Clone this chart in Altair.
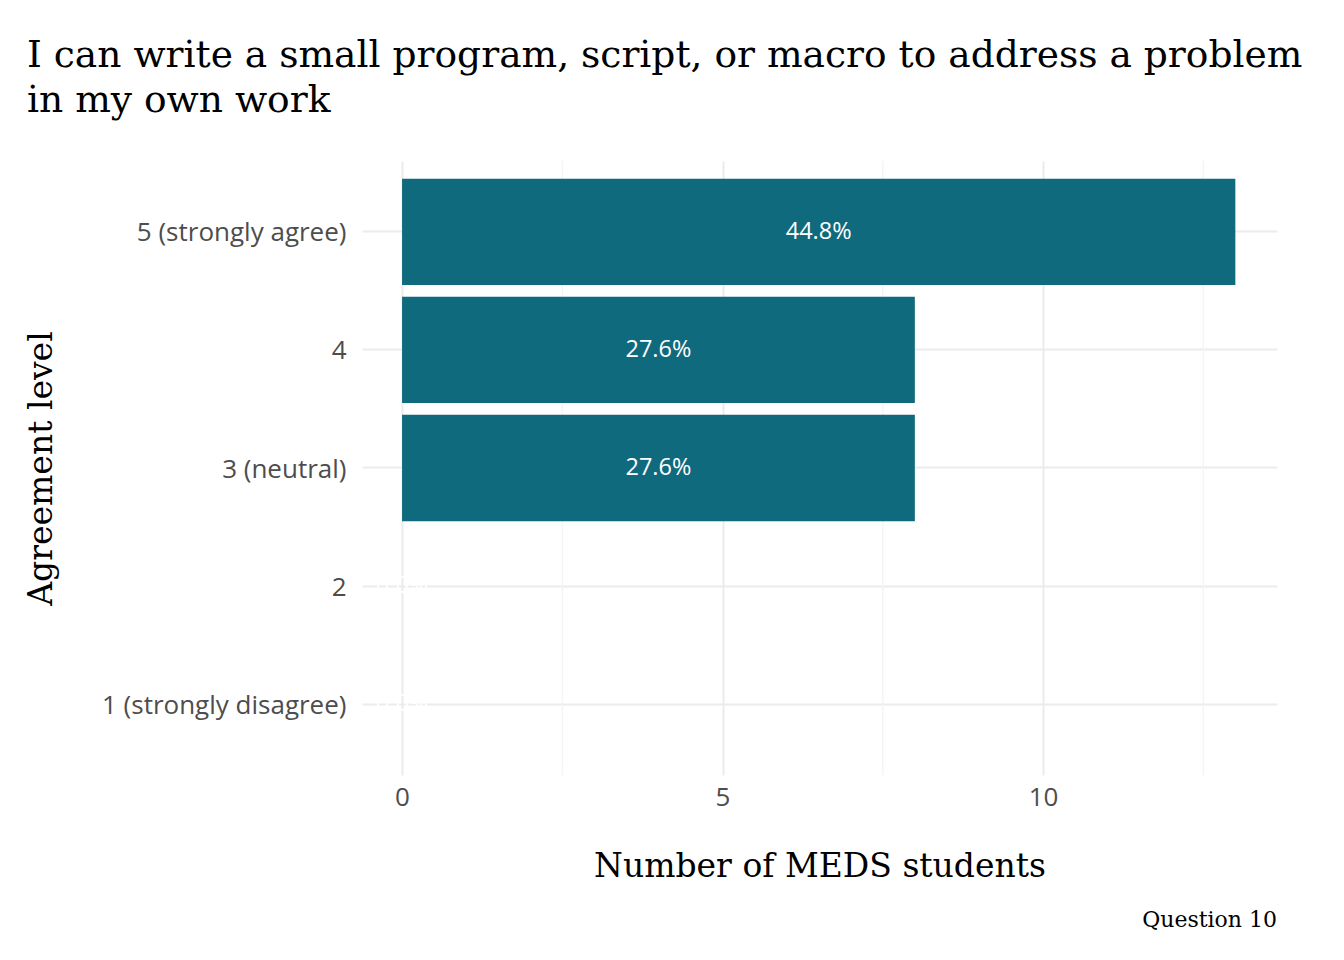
import altair as alt
import pandas as pd

levels = ["5 (strongly agree)", "4", "3 (neutral)", "2", "1 (strongly disagree)"]
counts = [13, 8, 8, 0, 0]
total = sum(counts)
pct_labels = [f"{c / total * 100:.1f}%" for c in counts]
minor_ticks = [2.5, 7.5, 12.5]
major_ticks = [0, 5, 10]
title_lines = ["I can write a small program, script, or macro to address a problem", "in my own work"]
caption_text = "Question 10"

df = pd.DataFrame({"level": levels, "count": counts, "pct": pct_labels})
df["mid"] = df["count"] / 2

W, H = 915, 614
serif = "DejaVu Serif"
sans = "Open Sans"

xscale = alt.Scale(domain=[-0.625, 13.65], nice=False, zero=False)
yscale = alt.Scale(domain=levels, paddingInner=0.1, paddingOuter=0.15)

xaxis = alt.Axis(
    values=major_ticks,
    grid=True,
    gridColor="#ebebeb",
    gridWidth=2,
    domain=False,
    ticks=False,
    labelFont=sans,
    labelFontSize=26,
    labelColor="#4d4d4d",
    labelBaseline="middle",
    labelPadding=22,
    titleFont=serif,
    titleFontSize=33,
    titleFontWeight="normal",
    titleColor="#000000",
    titleBaseline="middle",
    titleY=91,
)
yaxis = alt.Axis(
    grid=True,
    gridColor="#ebebeb",
    gridWidth=2,
    bandPosition=0.5,
    domain=False,
    ticks=False,
    labelFont=sans,
    labelFontSize=26,
    labelColor="#4d4d4d",
    labelPadding=16,
    labelLimit=0,
    labelOffset=1.5,
    titleFont=serif,
    titleFontSize=33,
    titleFontWeight="normal",
    titleColor="#000000",
    titleAngle=-90,
    titleAlign="center",
    titleBaseline="middle",
    titleX=-321,
    titleY=H / 2,
)

minor = alt.Chart(pd.DataFrame({"count": minor_ticks})).mark_rule(
    color="#f3f3f3", strokeWidth=1.2
).encode(x=alt.X("count:Q", scale=xscale, title="Number of MEDS students", axis=xaxis))

bars = alt.Chart(df).mark_bar(color="#106a7e").encode(
    x=alt.X("count:Q", scale=xscale, title="Number of MEDS students", axis=xaxis),
    y=alt.Y("level:N", scale=yscale, sort=levels, title="Agreement level", axis=yaxis),
)

text = alt.Chart(df).mark_text(
    color="white", font=sans, fontSize=23.5, align="center", baseline="middle"
).encode(
    x=alt.X("mid:Q", scale=xscale, title="Number of MEDS students", axis=xaxis),
    y=alt.Y("level:N", scale=yscale, sort=levels, title="Agreement level", axis=yaxis),
    text="pct:N",
)

caption = alt.Chart(pd.DataFrame({"t": [caption_text]})).mark_text(
    font=serif, fontSize=22, color="#000000", align="right", baseline="middle"
).encode(x=alt.value(W), y=alt.value(H + 145), text="t:N")

title1 = alt.Chart(pd.DataFrame({"t": [title_lines[0]]})).mark_text(
    font=serif, fontSize=37.6, color="#000000", align="left", baseline="alphabetic"
).encode(x=alt.value(-335), y=alt.value(-94), text="t:N")

title2 = alt.Chart(pd.DataFrame({"t": [title_lines[1]]})).mark_text(
    font=serif, fontSize=37.6, color="#000000", align="left", baseline="alphabetic"
).encode(x=alt.value(-335), y=alt.value(-49), text="t:N")

chart = alt.layer(minor, bars, text, caption, title1, title2).properties(
    width=W,
    height=H,
    padding={"left": 354, "top": 153, "right": 59, "bottom": 177},
    autosize=alt.AutoSizeParams(type="none"),
    background="white",
).configure_view(strokeWidth=0, stroke="transparent")

chart.save("out.html", embed_options={"renderer": "svg", "actions": False})
